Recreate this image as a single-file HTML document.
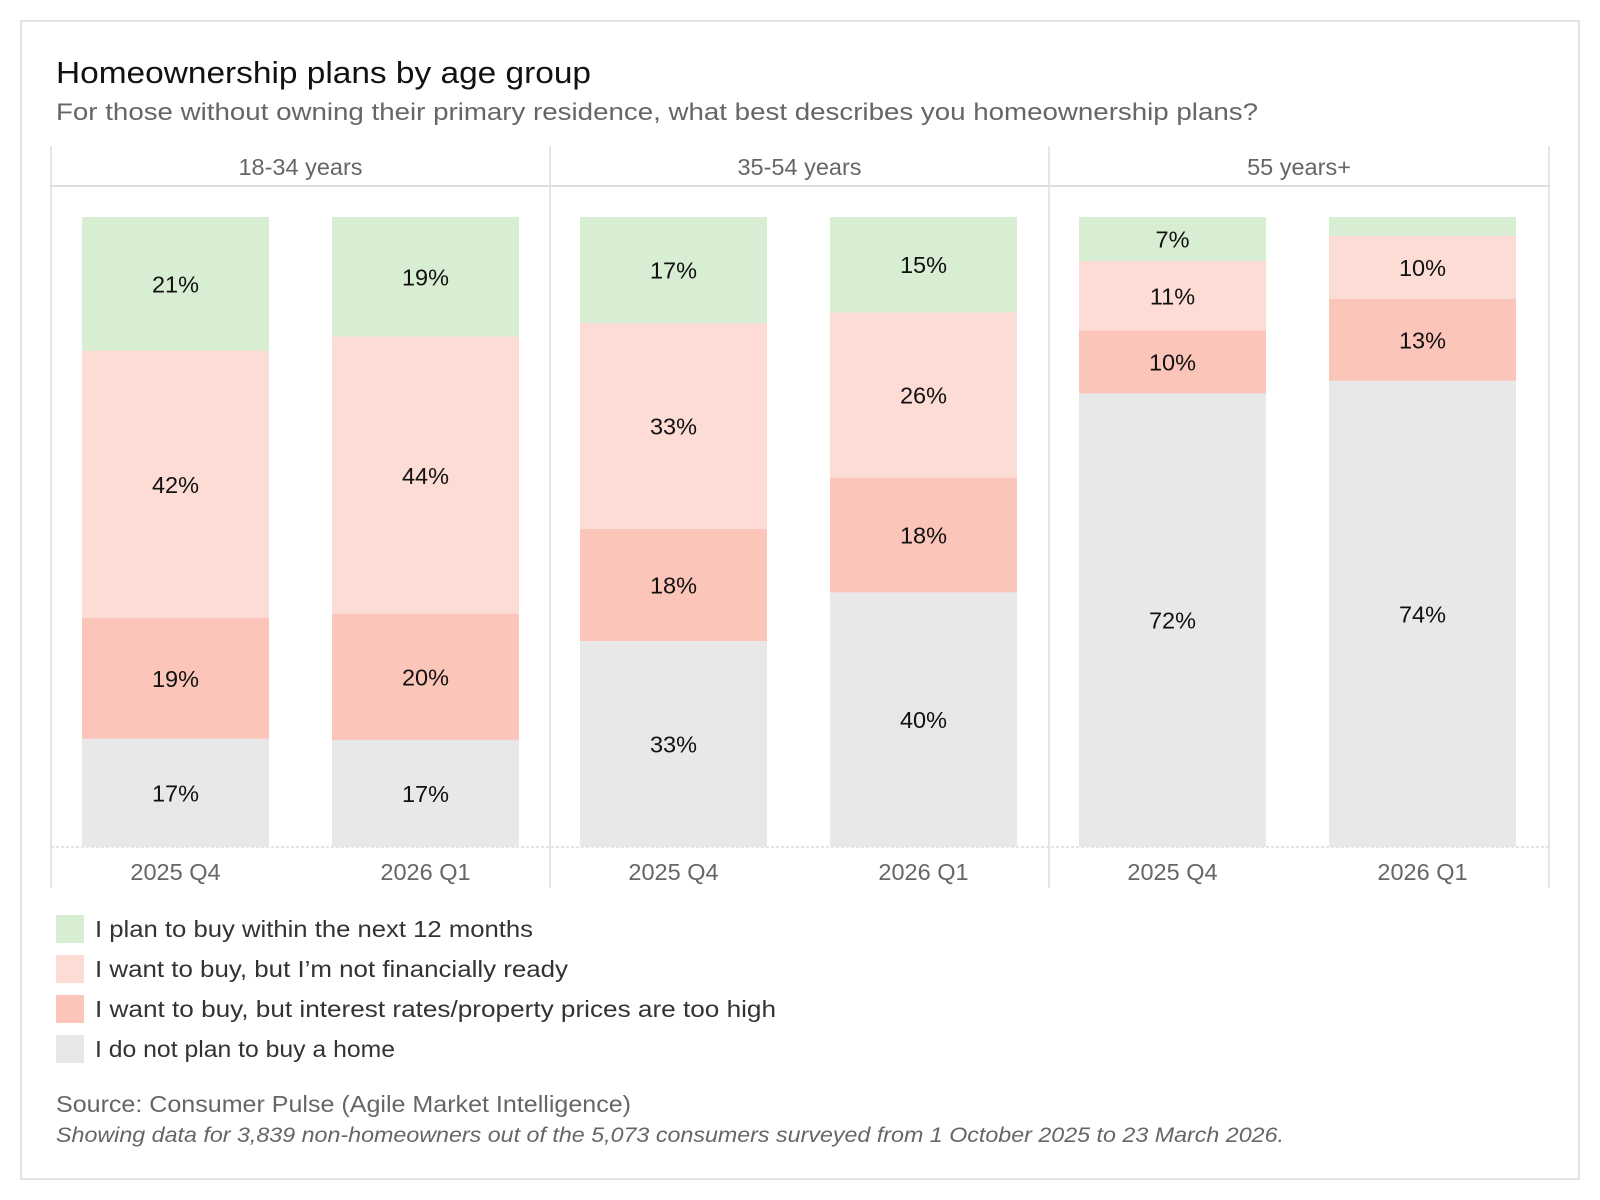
<!DOCTYPE html>
<html><head><meta charset="utf-8"><style>
html,body{margin:0;padding:0;background:#fff;}
svg{display:block;font-family:"Liberation Sans",sans-serif;}
</style></head><body>
<svg id="chart" width="1600" height="1200" viewBox="0 0 1600 1200">
<rect x="21" y="21" width="1558" height="1158" fill="#fff" stroke="#e3e3e3" stroke-width="2"/>
<text x="56" y="83" font-size="31" fill="#111" textLength="535" lengthAdjust="spacingAndGlyphs">Homeownership plans by age group</text>
<text x="56" y="120" font-size="24.5" fill="#666" textLength="1202" lengthAdjust="spacingAndGlyphs">For those without owning their primary residence, what best describes you homeownership plans?</text>
<g id="panels"></g>
<g id="bars"></g>
<g id="legend"></g>
<text x="56" y="1112" font-size="23.5" fill="#666" textLength="575" lengthAdjust="spacingAndGlyphs">Source: Consumer Pulse (Agile Market Intelligence)</text>
<text x="56" y="1142" font-size="21.5" fill="#666" font-style="italic" textLength="1228" lengthAdjust="spacingAndGlyphs">Showing data for 3,839 non-homeowners out of the 5,073 consumers surveyed from  1 October 2025 to 23 March 2026.</text>
</svg>
<script>
const groups = ["18-34 years", "35-54 years", "55 years+"];
const periods = ["2025 Q4", "2026 Q1"];
const seriesNames = ["I plan to buy within the next 12 months", "I want to buy, but I\u2019m not financially ready", "I want to buy, but interest rates/property prices are too high", "I do not plan to buy a home"];
const planToBuy = [21, 19, 17, 15, 7, 3];
const notReady = [42, 44, 33, 26, 11, 10];
const tooHigh = [19, 20, 18, 18, 10, 13];
const noPlan = [17, 17, 33, 40, 72, 74];

const colors = ["#d8eed2", "#fddcd6", "#fbc5b9", "#e8e8e8"];
const legendWidths = [438, 473, 681, 300];
const NS = "http://www.w3.org/2000/svg";
function mk(tag, attrs, parent){const e=document.createElementNS(NS,tag);for(const k in attrs)e.setAttribute(k,attrs[k]);parent.appendChild(e);return e;}

const panelX = [51, 550, 1049, 1549];
const yTop = 217, yBot = 847;
const yScale = f => yTop + f * (yBot - yTop);
const barW = 187;
const barOffsets = [30, 280];
const panels = document.getElementById("panels");
const barsG = document.getElementById("bars");

let l = mk("line",{x1:51,y1:186,x2:1549,y2:186,stroke:"#d4d4d4","stroke-width":1.5},panels);


l = mk("line",{x1:51,y1:847,x2:1549,y2:847,stroke:"#c8c8c8","stroke-width":1,"stroke-dasharray":"3,2"},panels);


panelX.forEach((x,i)=>{
  const v = mk("line",{x1:x,y1:146,x2:x,y2:888,stroke:"#dedede","stroke-width":1.5},panels);
  
  
});
groups.forEach((g,gi)=>{
  const cx = (panelX[gi]+panelX[gi+1])/2;
  const t = mk("text",{x:cx,y:175,"font-size":23.5,fill:"#666","text-anchor":"middle"},panels);
  t.textContent = g;
  
  
  periods.forEach((p,pi)=>{
    const idx = gi*2+pi;
    const bx = panelX[gi] + barOffsets[pi] + (gi===0?1:0);
    const vals = [planToBuy[idx], notReady[idx], tooHigh[idx], noPlan[idx]];
    const sum = vals.reduce((a,b)=>a+b,0);
    let acc = 0;
    vals.forEach((v,si)=>{
      const y0 = yScale(acc/sum), y1 = yScale((acc+v)/sum);
      acc += v;
      const r = mk("rect",{x:bx,y:y0,width:barW,height:y1-y0,fill:colors[si]},barsG);
      
      
      if (v >= 5) {
        const lt = mk("text",{x:bx+barW/2,y:(y0+y1)/2+8.5,"font-size":23.5,fill:"#111","text-anchor":"middle"},barsG);
        lt.textContent = v + "%";
        
        
      }
    });
    const xl = mk("text",{x:bx+barW/2,y:880,"font-size":23.5,fill:"#666","text-anchor":"middle"},panels);
    xl.textContent = p;
    
    
  });
});

const lg = document.getElementById("legend");
seriesNames.forEach((n,i)=>{
  const y = 915 + i*40;
  const s = mk("rect",{x:56,y:y,width:28,height:28,fill:colors[i]},lg);
  
  
  const t = mk("text",{x:95,y:y+22,"font-size":23.5,fill:"#333",textLength:legendWidths[i],lengthAdjust:"spacingAndGlyphs"},lg);
  t.textContent = n;
  
  
});
</script>
</body></html>
